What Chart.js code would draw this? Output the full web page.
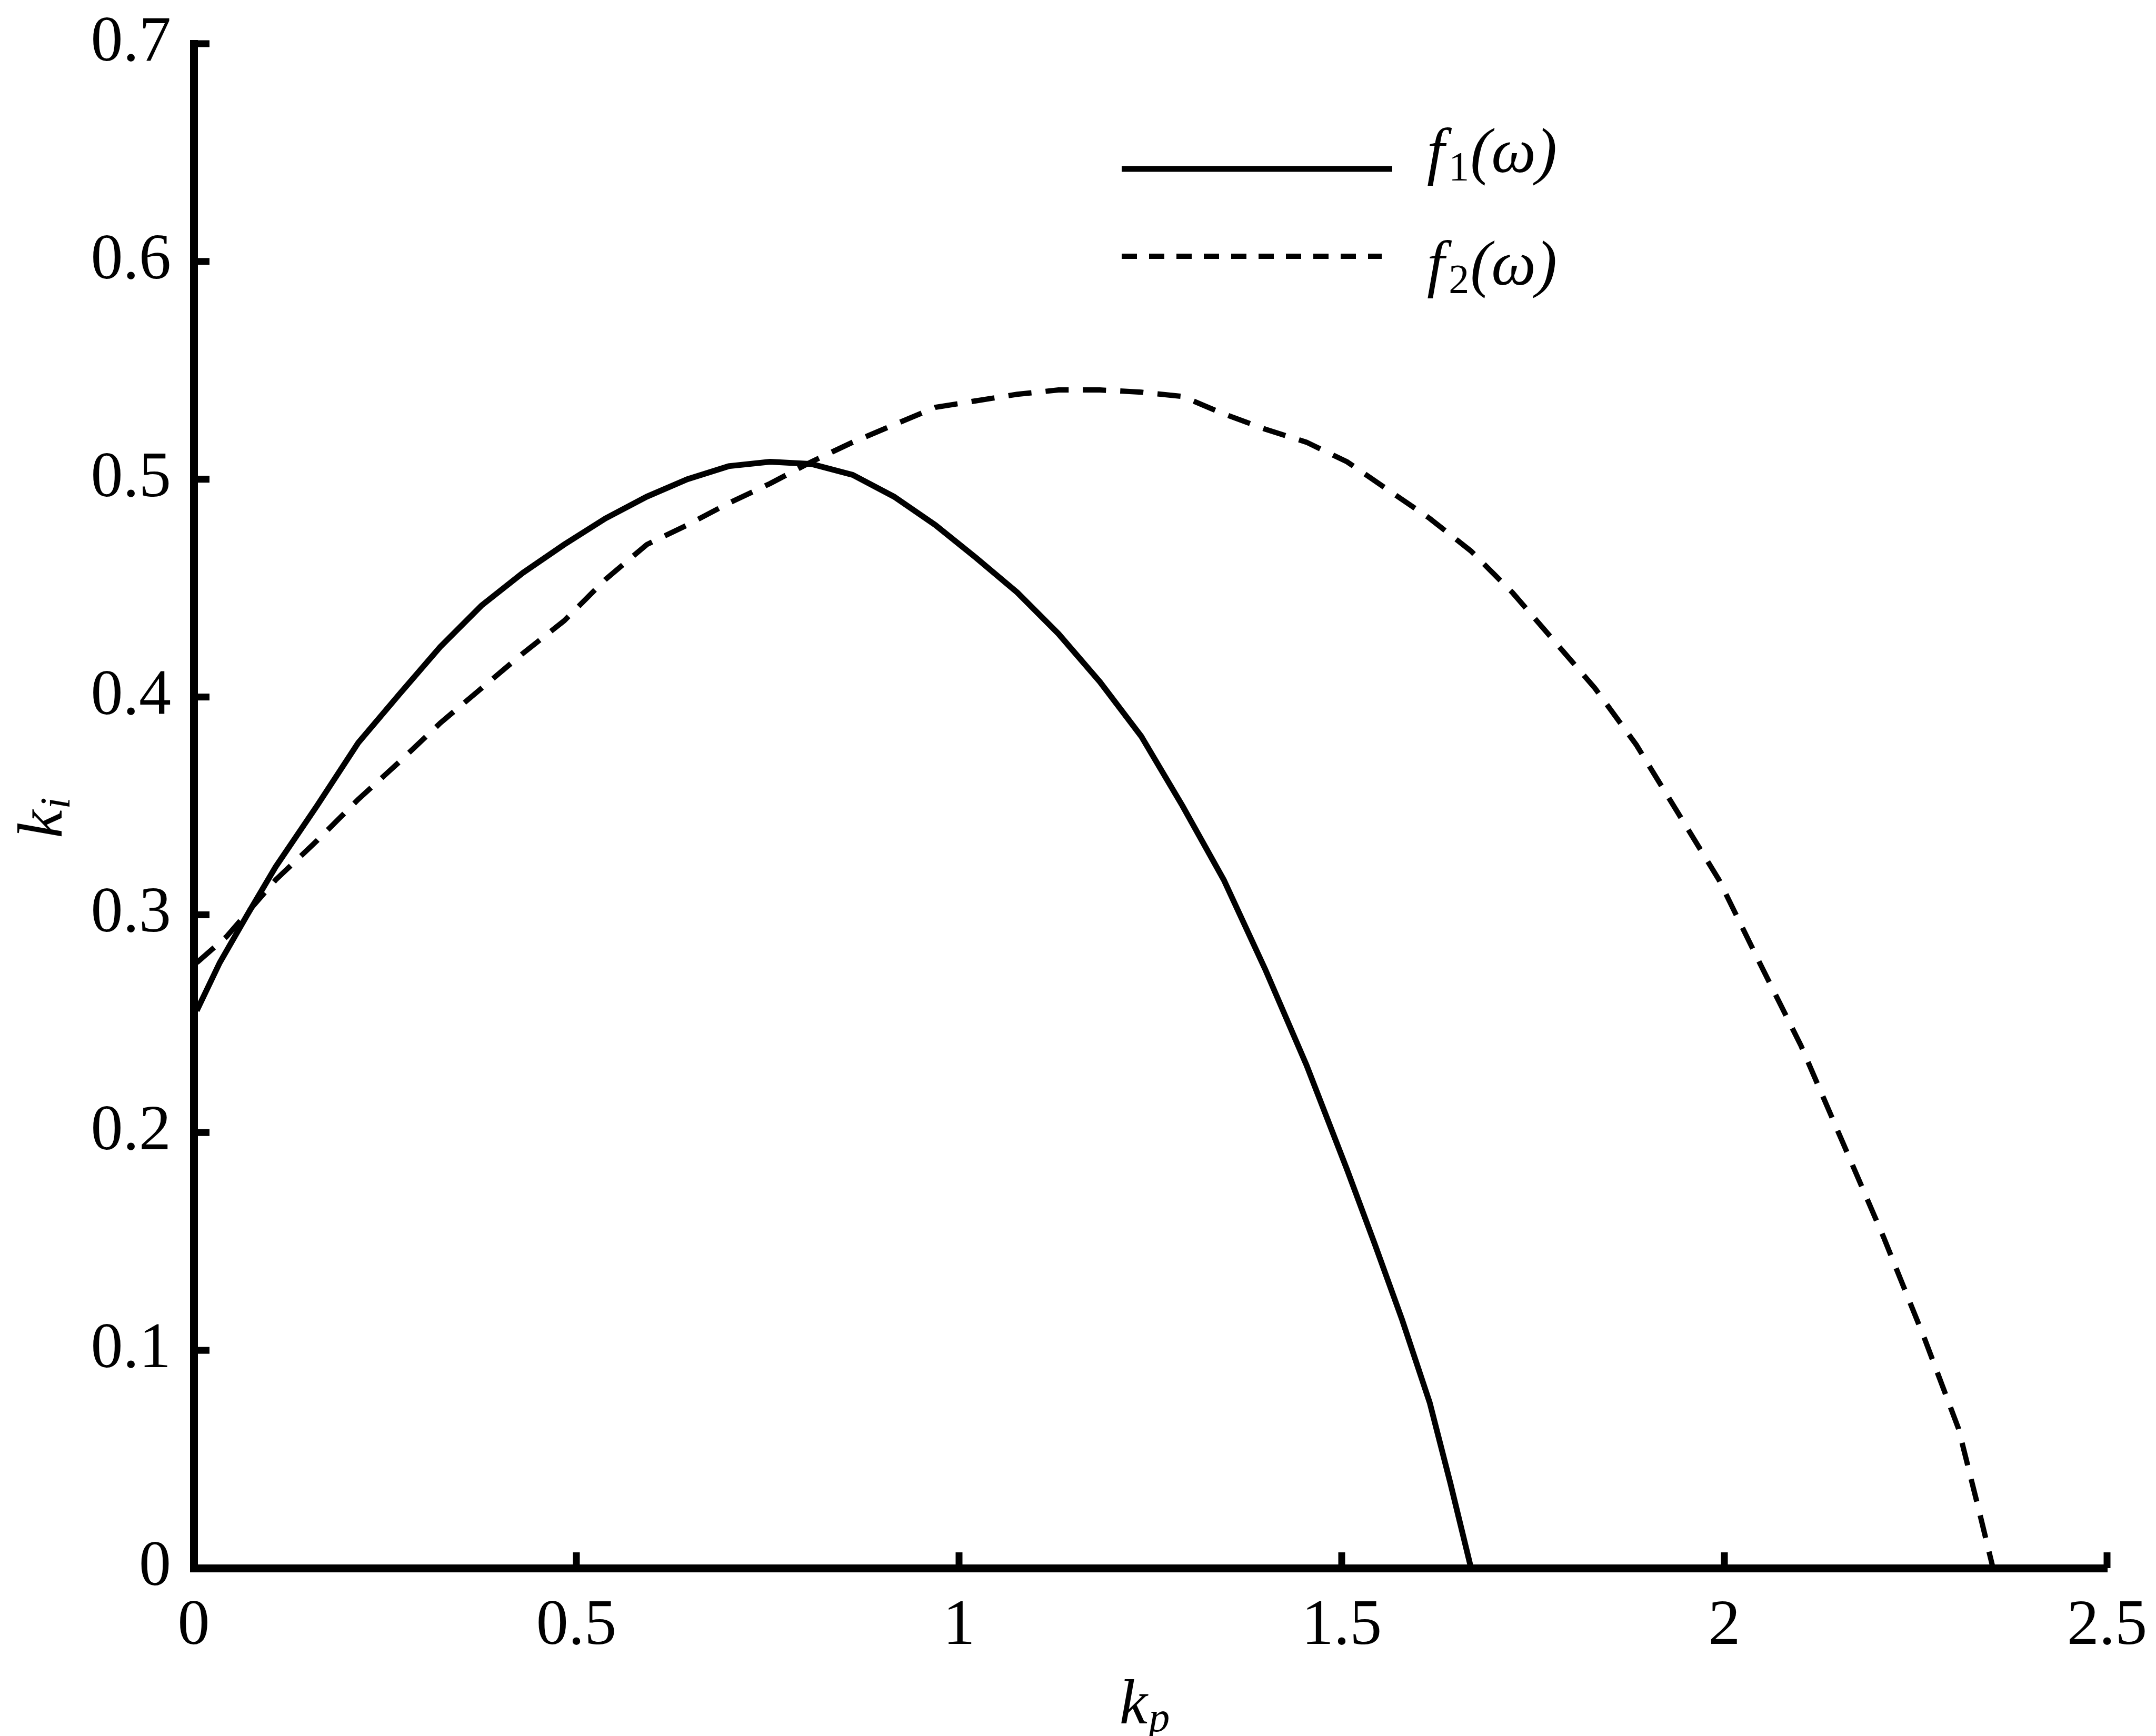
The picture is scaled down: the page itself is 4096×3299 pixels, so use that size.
<!DOCTYPE html>
<html>
<head>
<meta charset="utf-8">
<script src="https://cdn.jsdelivr.net/npm/chart.js@4.4.1/dist/chart.umd.min.js"></script>
<style>
  html, body { margin: 0; padding: 0; background: #ffffff; }
  canvas { display: block; }
</style>
</head>
<body>
<canvas id="chart" width="4096" height="3299"></canvas>
<script>
// Stability boundary curves in the (kp, ki) parameter plane.
const f1Kp = [0.004, 0.034, 0.070, 0.107, 0.161, 0.215, 0.268, 0.322, 0.376, 0.430, 0.484, 0.538, 0.592, 0.645, 0.699, 0.753, 0.807, 0.861, 0.915, 0.969, 1.022, 1.076, 1.130, 1.184, 1.238, 1.292, 1.346, 1.400, 1.454, 1.507, 1.543, 1.579, 1.615, 1.642, 1.669];
const f1Ki = [0.256, 0.278, 0.300, 0.322, 0.350, 0.379, 0.401, 0.423, 0.442, 0.457, 0.470, 0.482, 0.492, 0.500, 0.506, 0.508, 0.507, 0.502, 0.492, 0.479, 0.464, 0.448, 0.429, 0.407, 0.382, 0.350, 0.316, 0.275, 0.231, 0.183, 0.149, 0.114, 0.076, 0.039, 0.000];

const f2Kp = [0.004, 0.043, 0.107, 0.161, 0.215, 0.268, 0.322, 0.376, 0.430, 0.484, 0.538, 0.592, 0.645, 0.699, 0.753, 0.807, 0.861, 0.915, 0.969, 1.022, 1.076, 1.130, 1.184, 1.238, 1.292, 1.346, 1.400, 1.454, 1.507, 1.561, 1.615, 1.669, 1.723, 1.777, 1.831, 1.885, 1.939, 1.993, 2.046, 2.100, 2.154, 2.208, 2.262, 2.306, 2.333, 2.351];
const f2Ki = [0.278, 0.290, 0.316, 0.334, 0.353, 0.370, 0.388, 0.404, 0.420, 0.435, 0.454, 0.470, 0.479, 0.489, 0.498, 0.508, 0.517, 0.525, 0.533, 0.536, 0.539, 0.541, 0.541, 0.540, 0.538, 0.530, 0.523, 0.517, 0.508, 0.495, 0.482, 0.467, 0.448, 0.426, 0.404, 0.378, 0.347, 0.316, 0.278, 0.240, 0.196, 0.152, 0.105, 0.064, 0.026, 0.000];

const xTickValues = [0, 0.5, 1, 1.5, 2, 2.5];
const yTickValues = [0, 0.1, 0.2, 0.3, 0.4, 0.5, 0.6, 0.7];

// Legend entries: base symbol, subscript, argument
const seriesNames = [['f', '1', '(ω)'], ['f', '2', '(ω)']];
const axisTitleX = ['k', 'p'];
const axisTitleY = ['k', 'i'];

const SERIF = "'Liberation Serif', 'Times New Roman', 'DejaVu Serif', serif";
const toPoints = (xs, ys) => xs.map((x, i) => ({ x: x, y: ys[i] }));

// Inward tick marks, axis titles with subscripts and the in-plot legend
const decorations = {
  id: 'decorations',
  afterDraw(chart) {
    const ctx = chart.ctx;
    const xs = chart.scales.x;
    const ys = chart.scales.y;
    const area = chart.chartArea;
    ctx.save();
    ctx.strokeStyle = '#000';
    ctx.fillStyle = '#000';
    ctx.lineCap = 'butt';
    ctx.lineWidth = 13;
    xs.ticks.forEach(t => {
      const px = xs.getPixelForValue(t.value);
      ctx.beginPath();
      ctx.moveTo(px, area.bottom);
      ctx.lineTo(px, area.bottom - 30);
      ctx.stroke();
    });
    ys.ticks.forEach(t => {
      const py = ys.getPixelForValue(t.value);
      ctx.beginPath();
      ctx.moveTo(area.left, py);
      ctx.lineTo(area.left + 30, py);
      ctx.stroke();
    });

    // x-axis title
    const mainFont = 'italic 120px ' + SERIF;
    const subFont = 'italic 80px ' + SERIF;
    ctx.textBaseline = 'alphabetic';
    ctx.textAlign = 'left';
    ctx.font = mainFont;
    const kw = ctx.measureText(axisTitleX[0]).width;
    ctx.font = subFont;
    const pw = ctx.measureText(axisTitleX[1]).width;
    const cx = (area.left + area.right) / 2 - 12;
    const startX = cx - (kw + pw) / 2;
    ctx.font = mainFont;
    ctx.fillText(axisTitleX[0], startX, 3275);
    ctx.font = subFont;
    ctx.fillText(axisTitleX[1], startX + kw + 2, 3290);

    // y-axis title (rotated)
    ctx.save();
    ctx.font = mainFont;
    const kyw = ctx.measureText(axisTitleY[0]).width;
    ctx.font = subFont;
    const iw = ctx.measureText(axisTitleY[1]).width;
    ctx.translate(117, 1555 + (kyw + iw) / 2);
    ctx.rotate(-Math.PI / 2);
    ctx.font = mainFont;
    ctx.fillText(axisTitleY[0], 0, 0);
    ctx.font = subFont;
    ctx.fillText(axisTitleY[1], kyw + 2, 15);
    ctx.restore();

    // legend
    const rows = [
      { y: 321, text: 327, x1: 2131, x2: 2645, dash: [] },
      { y: 487, text: 541, x1: 2131, x2: 2625, dash: [29, 23] }
    ];
    rows.forEach((r, i) => {
      const ds = chart.data.datasets[i];
      ctx.save();
      ctx.lineWidth = ds.borderWidth;
      ctx.setLineDash(r.dash);
      ctx.beginPath();
      ctx.moveTo(r.x1, r.y);
      ctx.lineTo(r.x2, r.y);
      ctx.stroke();
      ctx.restore();
      const parts = seriesNames[i];
      let x = 2711;
      ctx.font = 'italic 120px ' + SERIF;
      ctx.fillText(parts[0], x, r.text);
      x += ctx.measureText(parts[0]).width + 8;
      ctx.font = '78px ' + SERIF;
      ctx.fillText(parts[1], x, r.text + 15);
      x += ctx.measureText(parts[1]).width + 2;
      ctx.font = 'italic 120px ' + SERIF;
      ctx.fillText(parts[2], x, r.text);
    });
    ctx.restore();
  }
};

Chart.defaults.font.family = SERIF;
Chart.defaults.color = '#000';

// Keep the plot frame fixed: tick labels may overhang the layout padding
const noOverhang = s => {
  s.paddingTop = 0;
  s.paddingBottom = 0;
  s.paddingLeft = 0;
  s.paddingRight = 0;
};

new Chart(document.getElementById('chart'), {
  type: 'line',
  data: {
    datasets: [
      {
        label: 'f₁(ω)',
        data: toPoints(f1Kp, f1Ki),
        borderColor: '#000',
        borderWidth: 11,
        pointRadius: 0,
        tension: 0,
        fill: false
      },
      {
        label: 'f₂(ω)',
        data: toPoints(f2Kp, f2Ki),
        borderColor: '#000',
        borderWidth: 10,
        borderDash: [44, 27],
        pointRadius: 0,
        tension: 0,
        fill: false
      }
    ]
  },
  options: {
    responsive: false,
    animation: false,
    devicePixelRatio: 1,
    layout: { padding: { left: 0, right: 93, top: 83, bottom: 0 } },
    plugins: {
      legend: { display: false },
      tooltip: { enabled: false },
      title: { display: false }
    },
    scales: {
      x: {
        type: 'linear',
        min: 0,
        max: 2.5,
        afterBuildTicks: s => { s.ticks = xTickValues.map(v => ({ value: v })); },
        afterFit: s => { s.height = 319; noOverhang(s); },
        grid: { display: true, drawOnChartArea: false, drawTicks: false },
        border: { display: true, width: 15, color: '#000' },
        ticks: {
          padding: 39,
          maxRotation: 0,
          autoSkip: false,
          font: { size: 122, family: SERIF },
          callback: v => String(v)
        }
      },
      y: {
        type: 'linear',
        min: 0,
        max: 0.7,
        afterBuildTicks: s => { s.ticks = yTickValues.map(v => ({ value: v })); },
        afterFit: s => { s.width = 368; noOverhang(s); },
        grid: { display: true, drawOnChartArea: false, drawTicks: false },
        border: { display: true, width: 15, color: '#000' },
        ticks: {
          padding: 43,
          autoSkip: false,
          font: { size: 122, family: SERIF },
          callback: v => String(v)
        }
      }
    }
  },
  plugins: [decorations]
});
</script>
</body>
</html>
